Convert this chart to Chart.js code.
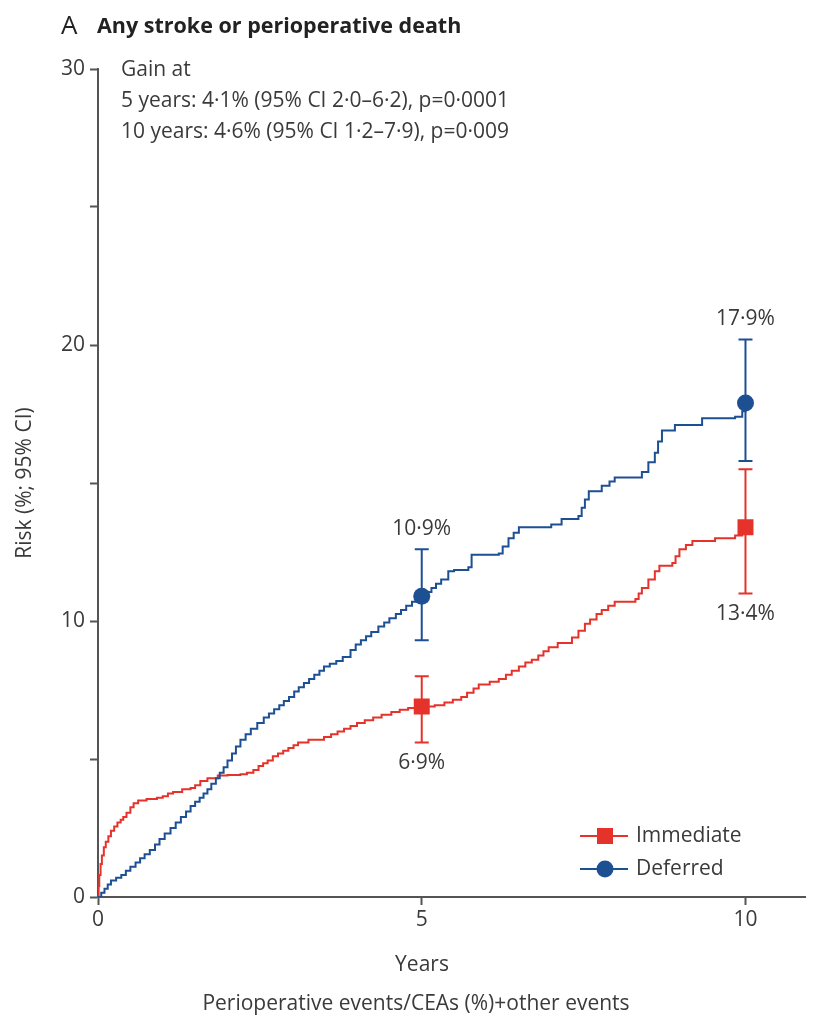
<!DOCTYPE html>
<html>
<head>
<meta charset="utf-8">
<script src="https://cdn.jsdelivr.net/npm/chart.js@4/dist/chart.umd.min.js"></script>
<style>
  html, body { margin: 0; padding: 0; background: #fff; }
  #wrap { width: 817px; height: 1021px; }
</style>
</head>
<body>
<div id="wrap"><canvas id="riskChart" width="817" height="1021"></canvas></div>
<script>
// Kaplan-Meier style curves (years, risk %)
const immYears = [0, 0.01, 0.02, 0.04, 0.06, 0.09, 0.12, 0.16, 0.2, 0.25, 0.3, 0.35, 0.39, 0.44, 0.5, 0.55, 0.62, 0.75, 0.91, 1.0, 1.08, 1.16, 1.3, 1.43, 1.5, 1.58, 1.69, 1.85, 2.0, 2.2, 2.3, 2.4, 2.48, 2.55, 2.62, 2.7, 2.78, 2.86, 2.94, 3.02, 3.09, 3.25, 3.49, 3.6, 3.7, 3.8, 3.9, 4.0, 4.12, 4.25, 4.38, 4.53, 4.66, 4.79, 5.0, 5.2, 5.35, 5.48, 5.61, 5.7, 5.8, 5.88, 6.05, 6.19, 6.3, 6.39, 6.5, 6.6, 6.7, 6.8, 6.88, 6.96, 7.1, 7.32, 7.42, 7.52, 7.6, 7.7, 7.78, 7.88, 7.98, 8.3, 8.35, 8.4, 8.5, 8.6, 8.67, 8.87, 8.92, 8.98, 9.08, 9.18, 9.53, 9.84, 9.95, 10.0];
const immRisk = [0, 0.4, 0.8, 1.2, 1.5, 1.8, 2.0, 2.2, 2.4, 2.55, 2.7, 2.8, 2.9, 3.05, 3.25, 3.4, 3.5, 3.55, 3.6, 3.65, 3.75, 3.8, 3.9, 3.95, 4.05, 4.2, 4.3, 4.4, 4.42, 4.45, 4.5, 4.6, 4.75, 4.85, 4.95, 5.1, 5.2, 5.3, 5.4, 5.5, 5.6, 5.7, 5.8, 5.9, 6.0, 6.1, 6.2, 6.3, 6.4, 6.5, 6.6, 6.7, 6.78, 6.85, 6.9, 6.95, 7.05, 7.15, 7.25, 7.4, 7.55, 7.7, 7.8, 7.9, 8.05, 8.2, 8.35, 8.5, 8.6, 8.75, 8.9, 9.05, 9.2, 9.4, 9.65, 9.9, 10.05, 10.25, 10.4, 10.55, 10.7, 10.8, 11.0, 11.2, 11.5, 11.8, 12.0, 12.1, 12.35, 12.6, 12.75, 12.9, 13.0, 13.1, 13.2, 13.4];

const defYears = [0, 0.05, 0.1, 0.15, 0.2, 0.28, 0.36, 0.43, 0.5, 0.58, 0.65, 0.72, 0.8, 0.88, 0.95, 1.03, 1.12, 1.2, 1.28, 1.36, 1.43, 1.5, 1.57, 1.63, 1.69, 1.75, 1.82, 1.88, 1.94, 2.0, 2.07, 2.13, 2.2, 2.28, 2.36, 2.46, 2.56, 2.64, 2.72, 2.8, 2.87, 2.95, 3.03, 3.1, 3.18, 3.26, 3.34, 3.42, 3.49, 3.58, 3.68, 3.78, 3.9, 3.98, 4.06, 4.14, 4.22, 4.33, 4.42, 4.5, 4.6, 4.68, 4.76, 4.85, 4.93, 5.0, 5.08, 5.15, 5.22, 5.3, 5.41, 5.5, 5.72, 5.77, 6.19, 6.25, 6.34, 6.42, 6.5, 7.0, 7.16, 7.42, 7.47, 7.52, 7.58, 7.78, 7.9, 7.98, 8.4, 8.5, 8.6, 8.65, 8.71, 8.91, 9.33, 9.84, 9.95, 10.0];
const defRisk = [0, 0.15, 0.3, 0.45, 0.6, 0.7, 0.8, 0.95, 1.1, 1.25, 1.4, 1.55, 1.7, 1.9, 2.1, 2.3, 2.5, 2.7, 2.9, 3.1, 3.3, 3.45, 3.6, 3.75, 3.9, 4.1, 4.3, 4.5, 4.7, 4.95, 5.2, 5.45, 5.7, 5.9, 6.1, 6.3, 6.5, 6.65, 6.8, 6.95, 7.1, 7.25, 7.45, 7.6, 7.75, 7.9, 8.05, 8.2, 8.35, 8.45, 8.55, 8.7, 8.95, 9.15, 9.3, 9.45, 9.6, 9.8, 9.95, 10.1, 10.25, 10.4, 10.55, 10.7, 10.8, 10.9, 11.05, 11.2, 11.35, 11.5, 11.8, 11.85, 11.95, 12.4, 12.45, 12.7, 13.0, 13.2, 13.4, 13.5, 13.7, 13.8, 14.1, 14.4, 14.7, 14.9, 15.05, 15.2, 15.4, 15.75, 16.1, 16.5, 16.9, 17.1, 17.35, 17.4, 17.6, 17.9];

// estimates with 95% CI at 5 and 10 years
const markYears = [5, 10];
const immEst = [6.9, 13.4];
const immLow = [5.6, 11.0];
const immHigh = [8.0, 15.5];
const defEst = [10.9, 17.9];
const defLow = [9.3, 15.8];
const defHigh = [12.6, 20.2];
const immLabels = ['6·9%', '13·4%'];
const defLabels = ['10·9%', '17·9%'];

const gainLines = ['Gain at', '5 years: 4·1% (95% CI 2·0–6·2), p=0·0001', '10 years: 4·6% (95% CI 1·2–7·9), p=0·009'];
const yTickLabels = { 0: '0', 10: '10', 20: '20', 30: '30' };

const RED = '#e5332b';
const BLUE = '#1d4f93';
const FONT = '"Open Sans", "DejaVu Sans", sans-serif';
const TXT = '#3a3a3a';
const FS = 21;

const zip = (xs, ys) => xs.map((x, i) => ({ x: x, y: ys[i] }));

const extras = {
    id: 'extras',
    beforeDatasetsDraw(chart) {
        const { ctx, scales: { x, y } } = chart;
        ctx.save();
        ctx.lineWidth = 2;
        const bars = [[immLow, immHigh, RED], [defLow, defHigh, BLUE]];
        bars.forEach(([lo, hi, col]) => {
            ctx.strokeStyle = col;
            markYears.forEach((yr, i) => {
                const px = x.getPixelForValue(yr);
                const y1 = y.getPixelForValue(lo[i]);
                const y2 = y.getPixelForValue(hi[i]);
                ctx.beginPath();
                ctx.moveTo(px, y1); ctx.lineTo(px, y2);
                ctx.moveTo(px - 7, y1); ctx.lineTo(px + 7, y1);
                ctx.moveTo(px - 7, y2); ctx.lineTo(px + 7, y2);
                ctx.stroke();
            });
        });
        ctx.restore();
    },
    afterDraw(chart) {
        const { ctx, scales: { x, y } } = chart;
        ctx.save();
        ctx.fillStyle = '#222';
        ctx.textBaseline = 'alphabetic';
        ctx.textAlign = 'left';
        ctx.font = '26px ' + FONT;
        ctx.fillText('A', 61, 34);
        ctx.font = 'bold 21.5px ' + FONT;
        ctx.fillText('Any stroke or perioperative death', 97, 33);

        ctx.fillStyle = TXT;
        ctx.font = FS + 'px ' + FONT;
        ctx.textBaseline = 'middle';
        gainLines.forEach((t, i) => ctx.fillText(t, 121, 70 + i * 31));

        // value labels
        ctx.textAlign = 'center';
        markYears.forEach((yr, i) => {
            const px = x.getPixelForValue(yr);
            ctx.fillText(defLabels[i], px, y.getPixelForValue(defHigh[i]) - 20);
            ctx.fillText(immLabels[i], px, y.getPixelForValue(immLow[i]) + 21);
        });

        // x axis titles
        ctx.fillText('Years', 422, 965);
        ctx.fillText('Perioperative events/CEAs (%)+other events', 416, 1004);

        // legend
        const items = [['Immediate', RED, 'rect', 836], ['Deferred', BLUE, 'circle', 869]];
        items.forEach(([label, col, shape, ly]) => {
            ctx.strokeStyle = col;
            ctx.fillStyle = col;
            ctx.lineWidth = 2;
            ctx.beginPath();
            ctx.moveTo(580, ly); ctx.lineTo(628, ly);
            ctx.stroke();
            ctx.beginPath();
            if (shape === 'rect') ctx.rect(597, ly - 8, 16, 16);
            else ctx.arc(605, ly, 8.5, 0, Math.PI * 2);
            ctx.fill();
            ctx.fillStyle = TXT;
            ctx.textAlign = 'left';
            ctx.fillText(label, 636, ly);
        });
        ctx.restore();
    }
};

new Chart(document.getElementById('riskChart'), {
    type: 'line',
    data: {
        datasets: [
            { label: 'Immediate', data: zip(immYears, immRisk), borderColor: RED, borderWidth: 2, stepped: true, pointRadius: 0, fill: false, order: 3 },
            { label: 'Deferred', data: zip(defYears, defRisk), borderColor: BLUE, borderWidth: 2, stepped: true, pointRadius: 0, fill: false, order: 2 },
            { label: 'Immediate est', data: zip(markYears, immEst), showLine: false, pointStyle: 'rect', pointRadius: 11.3, backgroundColor: RED, borderColor: RED, borderWidth: 0, order: 1 },
            { label: 'Deferred est', data: zip(markYears, defEst), showLine: false, pointStyle: 'circle', pointRadius: 8.5, backgroundColor: BLUE, borderColor: BLUE, borderWidth: 0, order: 0 }
        ]
    },
    options: {
        responsive: false,
        animation: false,
        layout: { padding: { left: 0, top: 69, right: 9, bottom: 0 } },
        plugins: { legend: { display: false }, tooltip: { enabled: false } },
        scales: {
            x: {
                type: 'linear',
                min: 0,
                max: 10.93,
                afterFit(scale) { scale.height = 124; },
                border: { color: '#555', width: 2 },
                grid: { drawOnChartArea: false, drawTicks: true, tickLength: 8, tickColor: '#555', tickWidth: 2 },
                ticks: { stepSize: 5, includeBounds: false, color: TXT, font: { family: FONT, size: FS }, padding: 2 }
            },
            y: {
                min: 0,
                max: 30,
                afterFit(scale) { scale.width = 98; },
                border: { color: '#555', width: 2 },
                grid: { drawOnChartArea: false, drawTicks: true, tickLength: 8, tickColor: '#555', tickWidth: 2 },
                ticks: {
                    stepSize: 5,
                    color: TXT,
                    font: { family: FONT, size: FS },
                    padding: 5,
                    callback: v => yTickLabels[v] || ''
                },
                title: { display: true, text: 'Risk (%; 95% CI)', color: TXT, font: { family: FONT, size: FS }, padding: { top: 12, bottom: 0 } }
            }
        }
    },
    plugins: [extras]
});
</script>
</body>
</html>
